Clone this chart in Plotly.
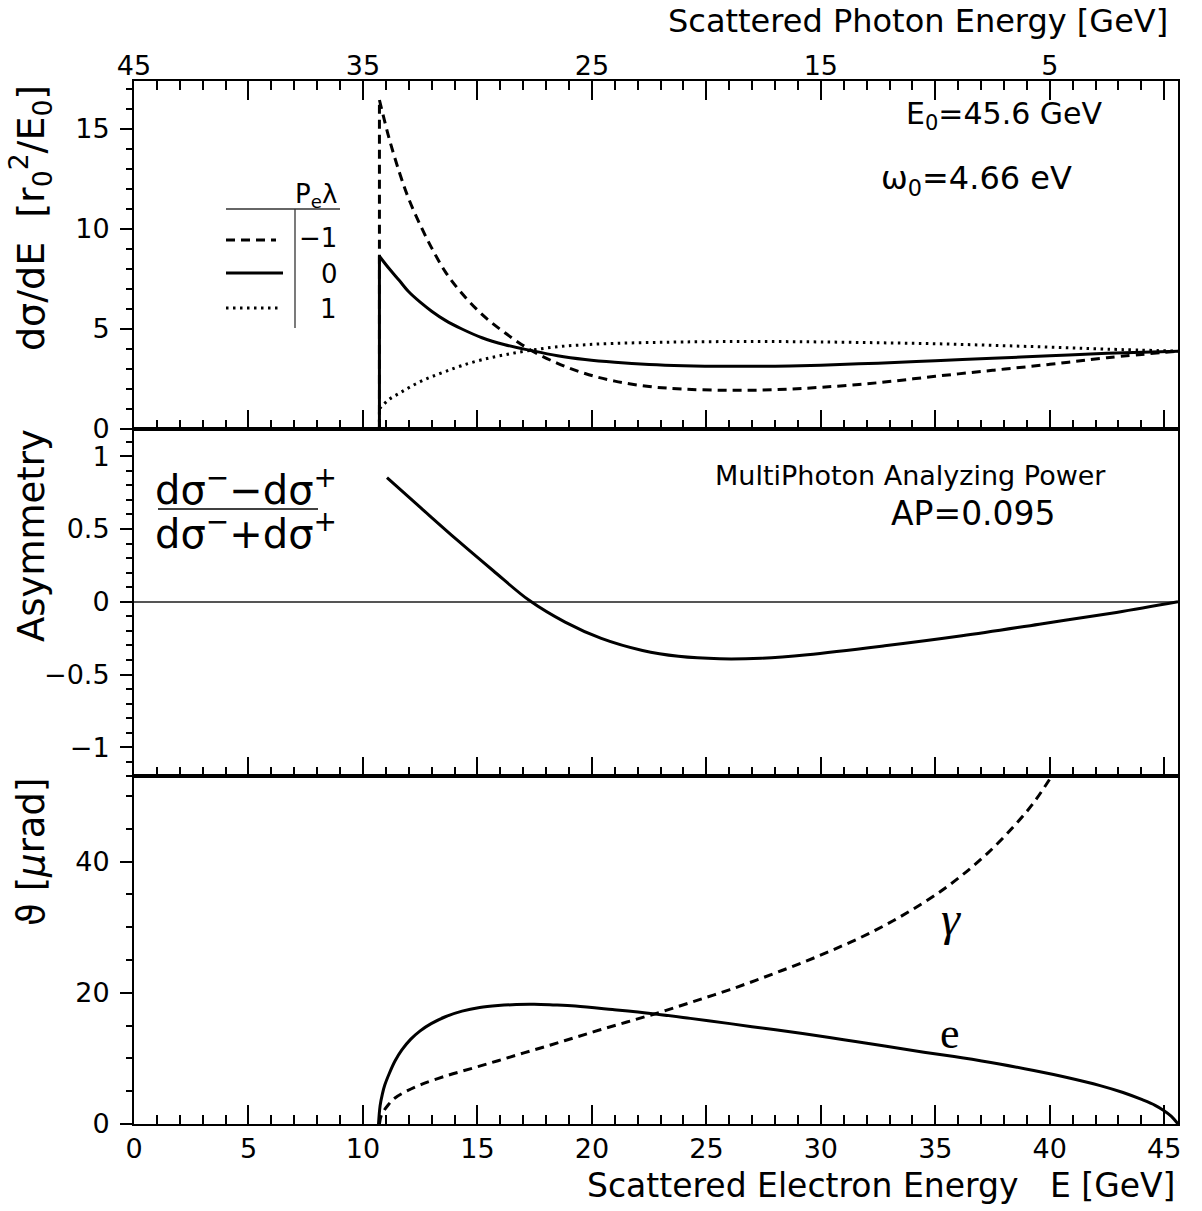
import plotly.graph_objects as go

# ---------------- data ----------------
# top panel: d(sigma)/dE for P_e*lambda = -1, 0, +1 (electron energy E in GeV)
E_xs = [10.72, 10.72, 11.15, 11.6, 12.0, 12.5, 13.0, 13.6, 14.3, 15.2, 16.2, 17.3, 18.5,
        19.7, 21.0, 22.5, 24.0, 26.0, 28.0, 30.0, 32.5, 35.0, 37.5, 40.0, 42.5, 45.6]
xs_m1 = [0, 16.45, 14.5, 12.8, 11.5, 10.2, 9.05, 7.85, 6.8, 5.72, 4.8, 3.95, 3.27,
         2.76, 2.38, 2.11, 1.98, 1.92, 1.95, 2.07, 2.3, 2.62, 2.92, 3.22, 3.55, 3.88]
xs_0 = [0, 8.63, 8.0, 7.4, 6.85, 6.33, 5.88, 5.42, 5.0, 4.55, 4.2, 3.92, 3.65,
        3.46, 3.32, 3.21, 3.15, 3.12, 3.13, 3.18, 3.28, 3.4, 3.52, 3.65, 3.77, 3.88]
xs_p1 = [0, 1.0, 1.47, 1.78, 2.05, 2.35, 2.6, 2.86, 3.15, 3.45, 3.7, 3.92, 4.1,
         4.2, 4.27, 4.31, 4.34, 4.36, 4.36, 4.34, 4.3, 4.25, 4.17, 4.08, 3.98, 3.88]

# middle panel: asymmetry
E_asym = [11.05, 12.53, 14.11, 15.68, 17.26, 18.83, 20.41, 22.21, 23.78, 25.58, 27.39,
          29.41, 32.79, 36.16, 39.54, 42.91, 45.6]
asym = [0.853, 0.645, 0.425, 0.215, 0.01, -0.14, -0.252, -0.335, -0.375, -0.392, -0.388,
        -0.364, -0.303, -0.234, -0.154, -0.073, 0.0]

# bottom panel: scattering angles (micro-rad)
E_th_e = [10.68, 10.75, 10.85, 10.95, 11.15, 11.4, 11.7, 12.08, 12.5, 12.98, 13.6, 14.33,
          15.1, 15.9, 16.7, 17.48, 18.3, 19.28, 20.9, 22.66, 24.3, 26.03, 27.6, 29.2, 31.0,
          32.79, 34.5, 36.16, 37.8, 39.3, 40.8, 42.2, 43.2, 44.04, 44.6, 44.96, 45.3, 45.6]
th_e = [0, 2.8, 4.6, 5.9, 7.7, 9.6, 11.3, 12.9, 14.2, 15.3, 16.35, 17.2,
        17.75, 18.05, 18.22, 18.25, 18.15, 17.98, 17.45, 16.82, 16.1, 15.3, 14.55, 13.8, 12.85,
        11.9, 10.95, 10.1, 9.15, 8.15, 7.05, 5.85, 4.8, 3.7, 2.85, 2.1, 1.2, 0]
E_th_g = [10.72, 10.8, 11.1, 11.4, 11.9, 12.53, 13.6, 14.78, 15.9, 17.03, 18.2, 19.28,
          20.4, 21.53, 22.66, 23.8, 24.91, 26.0, 27.16, 28.3, 29.41, 30.5, 31.66, 32.8,
          33.91, 35.04, 36.16, 37.29, 38.41, 39.3, 40.0]
th_g = [0, 1.3, 2.9, 3.97, 5.0, 6.0, 7.3, 8.5, 9.65, 10.84, 12.05, 13.2,
        14.4, 15.55, 16.7, 17.95, 19.2, 20.45, 21.9, 23.4, 24.9, 26.5, 28.3, 30.3,
        32.5, 35.0, 37.9, 41.3, 45.3, 49.0, 52.6]

# axis ticks
e_tick_vals = [0, 5, 10, 15, 20, 25, 30, 35, 40, 45]
photon_tick_vals = [0, 10, 20, 30, 40]
photon_tick_text = ["45", "35", "25", "15", "5"]

# ---------------- figure ----------------
W, H = 1202, 1211
L, R, T, B = 134, 24, 81, 87
FONT = "DejaVu Sans"


def P(px, py):
    """pixel position -> paper coordinates"""
    return (px - L) / (W - L - R), (H - B - py) / (H - T - B)


DASH = "9px,6px"
DOT = "2.5px,4.5px"
LW = 3
SM = 1.0

fig = go.Figure()
for ys, dash in [(xs_m1, DASH), (xs_0, "solid"), (xs_p1, DOT)]:
    # vertical rise at the kinematic edge
    fig.add_trace(go.Scatter(x=E_xs[:2], y=ys[:2], xaxis="x3", yaxis="y3", mode="lines",
                             line=dict(color="black", width=LW, dash=dash),
                             showlegend=False, hoverinfo="skip"))
    # the spectrum itself
    fig.add_trace(go.Scatter(x=E_xs[1:], y=ys[1:], xaxis="x3", yaxis="y3", mode="lines",
                             line=dict(color="black", width=LW, dash=dash, shape="spline", smoothing=SM),
                             showlegend=False, hoverinfo="skip"))
fig.add_trace(go.Scatter(x=E_asym, y=asym, xaxis="x2", yaxis="y2", mode="lines",
                         line=dict(color="black", width=LW, shape="spline", smoothing=SM),
                         showlegend=False, hoverinfo="skip"))
fig.add_trace(go.Scatter(x=E_th_e, y=th_e, xaxis="x", yaxis="y", mode="lines",
                         line=dict(color="black", width=LW, shape="spline", smoothing=SM),
                         showlegend=False, hoverinfo="skip"))
fig.add_trace(go.Scatter(x=E_th_g, y=th_g, xaxis="x", yaxis="y", mode="lines",
                         line=dict(color="black", width=LW, dash=DASH, shape="spline", smoothing=SM),
                         showlegend=False, hoverinfo="skip"))
# invisible carrier trace so the top (photon energy) label axis is drawn
fig.add_trace(go.Scatter(x=[photon_tick_vals[0]], y=[0], xaxis="x4", yaxis="y3", mode="markers",
                         marker=dict(opacity=0), showlegend=False, hoverinfo="skip"))

tickfont = dict(family=FONT, size=27, color="black")
base = dict(showline=True, linecolor="black", linewidth=2, mirror=True, showgrid=False,
            zeroline=False, tickcolor="black", tickwidth=1.5, tickfont=tickfont)

xbase = dict(base, range=[0, 45.6], tickmode="array", tickvals=e_tick_vals, ticks="inside",
             ticklen=19,
             minor=dict(dtick=1, tick0=0, ticks="inside", ticklen=9, tickwidth=1.5, tickcolor="black"))


def ybase(rng, dtick, mdtick, dom):
    return dict(base, range=rng, domain=dom, tickmode="linear", tick0=0, dtick=dtick,
                ticks="outside", ticklen=12, ticklabelstandoff=5,
                minor=dict(dtick=mdtick, tick0=0, ticks="outside", ticklen=6, tickwidth=1.5,
                           tickcolor="black"))


fig.update_layout(
    width=W, height=H, margin=dict(l=L, r=R, t=T, b=B),
    paper_bgcolor="white", plot_bgcolor="white", showlegend=False,
    xaxis=dict(xbase, anchor="y", showticklabels=True, ticklabelstandoff=0),
    xaxis2=dict(xbase, anchor="y2", matches="x", showticklabels=False),
    xaxis3=dict(xbase, anchor="y3", matches="x", showticklabels=False, mirror="ticks"),
    xaxis4=dict(showline=False, showgrid=False, zeroline=False, range=[0, 45.6],
                anchor="y3", overlaying="x3", side="top", tickmode="array",
                tickvals=photon_tick_vals, ticktext=photon_tick_text, ticks="",
                tickfont=tickfont, ticklabelstandoff=0),
    yaxis=ybase([0, 53], 20, 5, [0, 1 / 3]),
    yaxis2=dict(ybase([-1.2, 1.19], 0.5, 0.1, [1 / 3, 2 / 3]), zeroline=True,
                zerolinecolor="#555555", zerolinewidth=1.5),
    yaxis3=ybase([0, 17.4], 5, 1, [2 / 3, 1]),
)

ann = []


def text(px, py, s, size, xanchor="center", angle=0, family=FONT):
    x, y = P(px, py)
    ann.append(dict(x=x, y=y, xref="paper", yref="paper", text=s, showarrow=False,
                    xanchor=xanchor, yanchor="middle", textangle=angle,
                    font=dict(family=family, size=size, color="black")))


text(1170, 21, "Scattered Photon Energy [GeV]", 32, xanchor="right")
text(1177, 1185, "Scattered Electron Energy\u00a0\u00a0\u00a0E [GeV]", 33, xanchor="right")
text(31, 218, "dσ/dE\u00a0\u00a0[r<sub>0</sub><sup>2</sup>/E<sub>0</sub>]", 38, angle=-90)
text(31, 536, "Asymmetry", 37, angle=-90)
text(31, 852, "ϑ [<i>μ</i>rad]", 37, angle=-90)
text(1004, 116, "E<sub>0</sub>=45.6 GeV", 30)
text(976, 180, "ω<sub>0</sub>=4.66 eV", 32)
text(339, 195, "P<sub>e</sub>λ", 26, xanchor="right")
text(339, 238, "−1", 26, xanchor="right")
text(340, 274, "0", 26, xanchor="right")
text(339, 309, "1", 26, xanchor="right")
text(246, 487, "dσ<sup>−</sup>−dσ<sup>+</sup>", 40)
text(246, 531, "dσ<sup>−</sup>+dσ<sup>+</sup>", 40)
text(910, 475, "MultiPhoton Analyzing Power", 27)
text(973, 513, "AP=0.095", 33)
text(951, 918, "<i>γ</i>", 48, family="Liberation Serif")
text(950, 1033, "e", 44, family="Liberation Serif")
fig.update_layout(annotations=ann)

shapes = []


def seg(p1, p2, width=1.5, dash="solid", color="black"):
    x0, y0 = P(*p1)
    x1, y1 = P(*p2)
    shapes.append(dict(type="line", xref="paper", yref="paper", x0=x0, y0=y0, x1=x1, y1=y1,
                       line=dict(color=color, width=width, dash=dash)))


seg((226, 209), (340, 209), 1.3, color="#333333")
seg((295, 209), (295, 328), 1.3, color="#333333")
seg((226, 240), (276, 240), LW, DASH)
seg((226, 273), (283, 273), LW)
seg((226, 308), (279, 308), LW, DOT)
seg((158, 509), (318, 509), 1.5)
fig.update_layout(shapes=shapes)

fig.write_html("out.html")
